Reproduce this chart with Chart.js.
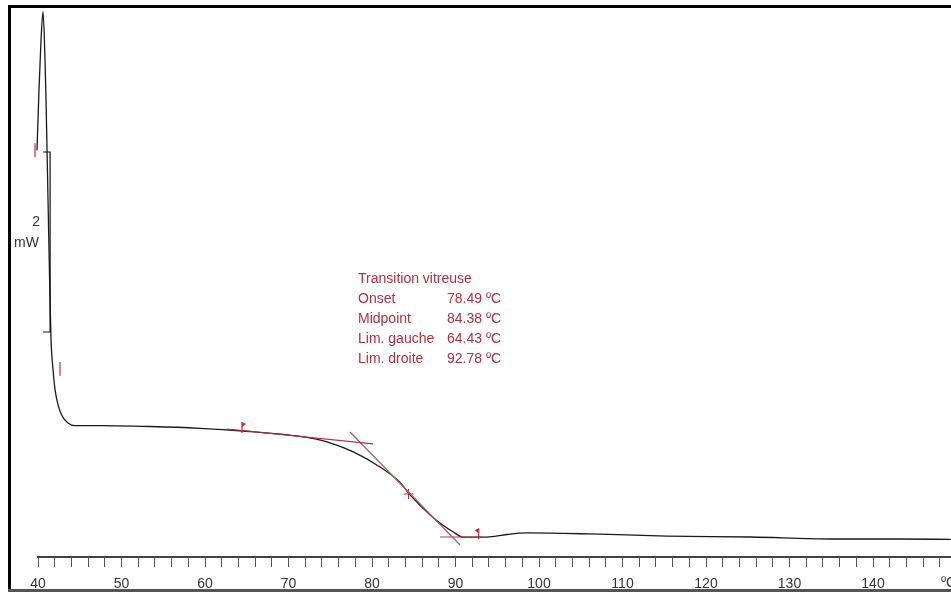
<!DOCTYPE html>
<html>
<head>
<meta charset="utf-8">
<script src="https://cdn.jsdelivr.net/npm/chart.js@4"></script>
<style>
  body { margin: 0; background: #fff; }
  #wrap { width: 951px; height: 592px; position: relative; }
</style>
</head>
<body>
<div id="wrap"><canvas id="dsc" width="951" height="592"></canvas></div>
<script>
// DSC curve, temperature (ºC) vs heat flow (mW, arbitrary offset)
var temps = [39.88, 40.12, 40.36, 40.6, 40.84, 40.96, 41.2, 41.44, 41.56, 41.8, 42.04, 42.4, 42.87, 43.59, 44.43,
             47.43, 53.4, 59.4, 64.55, 71.4, 74.6, 77.7, 80.96, 83.35, 84.55, 87.3, 89.7, 90.9, 92.9, 94.7,
             96.2, 98.6, 106.1, 115.3, 125.3, 135.2, 143.2, 149.3];
var heatFlow = [4.52, 5.19, 5.74, 6.06, 5.52, 5.08, 3.97, 2.86, 2.41, 2.08, 1.86, 1.69, 1.57, 1.49, 1.46,
                1.46, 1.45, 1.43, 1.40, 1.34, 1.28, 1.17, 1.0, 0.83, 0.69, 0.44, 0.28, 0.22, 0.22, 0.23,
                0.25, 0.267, 0.256, 0.233, 0.222, 0.20, 0.20, 0.195];

// tangents used for the glass transition evaluation
var tangentLeftX = [62.63, 80.12], tangentLeftY = [1.422, 1.256];
var tangentMidX = [77.37, 90.54], tangentMidY = [1.389, 0.133];
var tangentRightX = [88.14, 93.29], tangentRightY = [0.222, 0.222];

var onset = 78.49, midpoint = 84.38, limLeft = 64.43, limRight = 92.78;
var midpointY = 0.70, limLeftY = 1.40, limRightY = 0.22;
var peakLimitsX = [39.64, 42.63], peakLimitsY = [4.52, 2.09];

// 2 mW scale bar
var scaleBarX = 41.45, scaleBarY = [2.5, 4.5];

var resultLabels = ["Onset", "Midpoint", "Lim. gauche", "Lim. droite"];
var resultValues = [onset, midpoint, limLeft, limRight];

var xMin = 40, xMax = 149.34, yMin = 0, yMax = 6.111;

function pts(xs, ys) {
    var out = [];
    for (var i = 0; i < xs.length; i++) out.push({x: xs[i], y: ys[i]});
    return out;
}

var red = "#b0303c";

var extras = {
    id: "extras",
    afterDatasetsDraw: function(chart) {
        var c = chart.ctx, xs = chart.scales.x, ys = chart.scales.y;
        c.save();
        // scale bar
        var bx = xs.getPixelForValue(scaleBarX);
        var b0 = ys.getPixelForValue(scaleBarY[0]), b1 = ys.getPixelForValue(scaleBarY[1]);
        c.strokeStyle = "#111";
        c.lineWidth = 1.2;
        c.beginPath();
        c.moveTo(bx - 7, b1); c.lineTo(bx, b1); c.lineTo(bx, b0); c.lineTo(bx - 7, b0);
        c.stroke();
        c.fillStyle = "#333";
        c.font = "14px 'Liberation Sans', Arial, sans-serif";
        c.textAlign = "right";
        c.textBaseline = "middle";
        c.fillText("2", 40, (b0 + b1) / 2 - 20);
        c.fillText("mW", 39, (b0 + b1) / 2 + 1);

        // flags at the limits
        c.fillStyle = red;
        c.strokeStyle = red;
        c.lineWidth = 1.2;
        var fx = xs.getPixelForValue(limLeft), fy = ys.getPixelForValue(limLeftY);
        c.beginPath(); c.moveTo(fx, fy + 2); c.lineTo(fx, fy - 9); c.stroke();
        c.beginPath(); c.moveTo(fx, fy - 9); c.lineTo(fx + 4, fy - 7); c.lineTo(fx, fy - 4); c.fill();
        fx = xs.getPixelForValue(limRight); fy = ys.getPixelForValue(limRightY);
        c.beginPath(); c.moveTo(fx, fy + 2); c.lineTo(fx, fy - 9); c.stroke();
        c.beginPath(); c.moveTo(fx, fy - 9); c.lineTo(fx - 4, fy - 7); c.lineTo(fx, fy - 4); c.fill();

        // results text
        c.font = "14px 'Liberation Sans', Arial, sans-serif";
        c.textAlign = "left";
        c.textBaseline = "alphabetic";
        c.fillStyle = red;
        c.fillText("Transition vitreuse", 358, 283);
        for (var i = 0; i < resultLabels.length; i++) {
            c.fillText(resultLabels[i], 358, 303 + i * 20);
            c.fillText(resultValues[i].toFixed(2) + " ºC", 447, 303 + i * 20);
        }

        // unit on the x axis
        c.fillStyle = "#333";
        c.font = "14px 'Liberation Sans Narrow', 'Liberation Sans', sans-serif";
        c.textBaseline = "middle";
        c.fillText("ºC", 941, 583);

        // frame
        c.fillStyle = "#000";
        c.fillRect(8, 5, 943, 3);
        c.fillRect(8, 5, 3, 587);
        c.fillStyle = "#555";
        c.fillRect(8, 589, 943, 3);
        c.restore();
    }
};

new Chart(document.getElementById("dsc"), {
    type: "line",
    data: {
        datasets: [
            {
                data: pts(temps, heatFlow),
                borderColor: "#1a1a1a",
                borderWidth: 1.3,
                pointRadius: 0,
                cubicInterpolationMode: "monotone",
                clip: false,
                order: 10
            },
            {
                data: pts(tangentLeftX, tangentLeftY),
                borderColor: "#b03040", borderWidth: 1.2, pointRadius: 0
            },
            {
                data: pts(tangentMidX, tangentMidY),
                borderColor: "#a06060", borderWidth: 1.2, pointRadius: 0
            },
            {
                data: pts(tangentRightX, tangentRightY),
                borderColor: "#c03848", borderWidth: 1.2, pointRadius: 0
            },
            {
                data: [{x: midpoint, y: midpointY}],
                showLine: false, pointStyle: "cross", pointRadius: 5,
                borderColor: red, borderWidth: 1.2
            },
            {
                data: pts(peakLimitsX, peakLimitsY),
                showLine: false, pointStyle: "line", rotation: 90, pointRadius: 7,
                borderColor: "#d080a0", borderWidth: 2, clip: false
            }
        ]
    },
    options: {
        responsive: false,
        animation: false,
        layout: { autoPadding: false, padding: { left: 38, right: 0, top: 7, bottom: 0 } },
        plugins: { legend: { display: false }, tooltip: { enabled: false } },
        scales: {
            x: {
                type: "linear",
                min: xMin, max: xMax,
                afterFit: function(scale) {
                    scale.height = 35;
                    scale.paddingLeft = 0;
                    scale.paddingRight = 0;
                },
                grid: { drawOnChartArea: false, drawTicks: true, tickLength: 10, tickColor: "#555", tickWidth: 1 },
                border: { display: true, color: "#444", width: 2 },
                ticks: {
                    stepSize: 2,
                    includeBounds: false,
                    autoSkip: false,
                    maxRotation: 0,
                    padding: 9,
                    color: "#333",
                    font: { family: "'Liberation Sans Narrow', 'Liberation Sans', sans-serif", size: 14 },
                    callback: function(v) { return v % 10 === 0 ? String(v) : ""; }
                }
            },
            y: { type: "linear", display: false, min: yMin, max: yMax }
        }
    },
    plugins: [extras]
});
</script>
</body>
</html>
